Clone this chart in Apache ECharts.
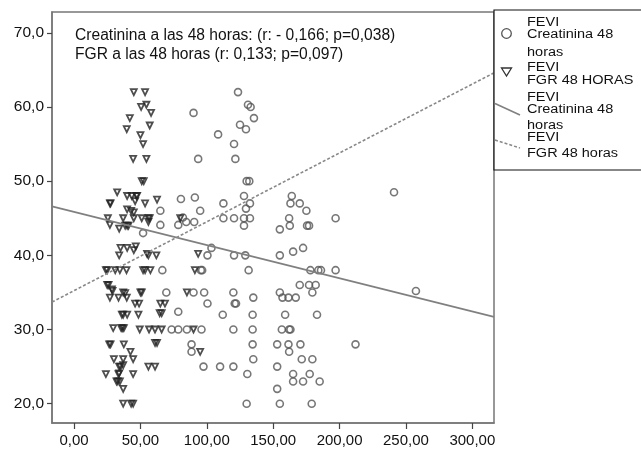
<!DOCTYPE html>
<html><head><meta charset="utf-8">
<script src="https://cdn.jsdelivr.net/npm/echarts@6/dist/echarts.min.js"></script>
<style>html,body{margin:0;padding:0;background:#fff}#c{width:641px;height:451px}</style>
</head><body><div id="c"></div>
<script>
const xTickValues = [0, 50, 100, 150, 200, 250, 300];
const xTickLabels = ['0,00', '50,00', '100,00', '150,00', '200,00', '250,00', '300,00'];
const yTickValues = [20, 30, 40, 50, 60, 70];
const yTickLabels = ['20,0', '30,0', '40,0', '50,0', '60,0', '70,0'];

const annotationLines = [
  'Creatinina a las 48 horas: (r: - 0,166; p=0,038)',
  'FGR a las 48 horas (r: 0,133; p=0,097)'
];
const legendTexts = [
  ['FEVI', 'Creatinina 48', 'horas'],
  ['FEVI', 'FGR 48 HORAS'],
  ['FEVI', 'Creatinina 48', 'horas'],
  ['FEVI', 'FGR 48 horas']
];

// Creatinina a las 48 horas (x) vs FEVI (y) — open circles
const creatininaPoints = [
  [123.5,62],[131,60.3],[133,60],[90,59.2],[135.5,58.5],[125,57.6],[129.5,57],
  [108.5,56.3],[120.5,55],[93.5,53],[121.5,53],[130,50],[132,50],
  [80.5,47.6],[91,47.8],[128,48],[164,48],[241,48.5],
  [112.5,47],[132.5,47],[163,47],[170,47],
  [65,46],[95,46],[129.5,46.3],[175,46],
  [82,45.1],[112.5,45],[120.5,45],[128,45],[132.5,45],[162,45],[197,45],
  [78.5,44.1],[65,44.1],[84.5,44.5],[90.5,44.5],[128,44],[162.5,44],[175.5,44],[177,44],
  [155,43.5],[52,43],
  [103.5,41],[172.5,41],[165,40.5],
  [100.5,40],[120.5,40],[129,40],[155,40],
  [66.5,38],[95.5,38],[96.5,38],[131.5,38],[178,38],[184,38],[186,38],[197,38],
  [170,36],[177,36],[182,36],
  [69.5,35],[90,35],[98,35],[120,35],[155,35],[179.5,35],[257.5,35.2],
  [135,34.3],[157,34.3],[161.5,34.3],[167,34.3],
  [100.5,33.5],[121,33.5],[122,33.5],
  [78.5,32.4],[112,32],[134.5,32],[159,32],[183,32],
  [73.5,30],[78.5,30],[85,30],[96,30],[120,30],[134.5,30],[156.5,30],[162,30],[163,30],
  [88.5,28],[134.5,28],[153,28],[161.5,28],[170.5,28],[212,28],
  [88.5,27],[162,27],
  [135,26],[171.5,26],[179.5,26],
  [97.5,25],[110,25],[120,25],[153,25],
  [130.5,24],[165,24],[177.5,24],
  [165,23],[172.5,23],[185,23],
  [153,22],
  [130,20],[155,20],[179,20]
];

// FGR a las 48 horas (x) vs FEVI (y) — open down triangles
const fgrPoints = [
  [45,62],[53.5,62],[50.5,60],[54.5,60.3],[58,59.2],[42,58.5],[57,57.5],[39.7,57],
  [50,56.2],[52,55],[44.5,53],[54.5,53],[51,50],[52.5,50],
  [32.5,48.5],[40,48],[43.5,48],[47,48],[47.5,48],
  [27,47],[27.5,47],[46,47.3],[53.5,47],[62.5,47.5],
  [40,46.2],[43,46],[45,45.8],
  [25.5,45],[37,45],[45,45],[51,45],[56,45],[57,45],[80,45],
  [27,44.1],[34,43.6],[38.5,44],[40,44],[41,44],[56,44.5],
  [35,41],[40,41],[45,40.7],[46.5,41.2],
  [34,40],[56,40],[55,40.2],[62,40],[93.5,40.2],
  [24,38],[25,38],[31,38],[34.5,38],[39.5,38],[52,38],[53.5,38],[57.5,38],[91,38],
  [25,36],[26,36],[28.5,35.4],
  [29,35.2],[37,35],[50,35],[51,35],[85,35],
  [27,34.3],[33.5,34.3],[38.5,34.9],[39.7,34.3],
  [46,33.5],[49,33.5],[65,33.5],[68.5,33.5],
  [36,32],[37,32],[40,32],[48.5,32],[64.5,32.2],[66,32.2],
  [29.5,30.2],[35.5,30.2],[36.5,30.2],[37.5,30.2],[49.5,30],[56.5,30],[61,30],[66,30],[90,30],
  [26.5,28],[27.5,28],[37.5,28],[61,28.2],[62.5,28.2],
  [42.5,27],[95,27],
  [30,26],[37,26],[44.5,26],
  [34,25],[35,25],[37,25.2],[56,25],[61,25],
  [24,24],[33.5,24],[34,24.1],[44.5,24],
  [32,23],[33,23],[34.5,23],
  [37,22],
  [37,20],[43,20],[44.5,20]
];

// Fitted lines (endpoints at axis extremes)
const xRange = [-16.6, 316.3];
const yRange = [17.4, 72.8];
const creatininaFit = [[-16.6, 46.6], [316.3, 31.7]];
const fgrFit = [[-16.6, 33.7], [316.3, 64.6]];

const chart = echarts.init(document.getElementById('c'), null, {renderer: 'canvas'});
const FONT = '"Liberation Sans", Arial, sans-serif';

const option = {
  animation: false,
  backgroundColor: '#fff',
  grid: {left: 52, top: 12, right: 147, bottom: 28, show: true, borderColor: '#777', borderWidth: 1.5, backgroundColor: '#fff'},
  xAxis: {
    type: 'value', min: xRange[0], max: xRange[1],
    splitLine: {show: false},
    axisLine: {show: true, onZero: false, lineStyle: {color: '#777', width: 1.5}},
    axisTick: {show: true, length: 6, customValues: xTickValues, lineStyle: {color: '#444', width: 1.2}},
    axisLabel: {customValues: xTickValues, margin: 10, color: '#111', fontSize: 15, fontFamily: FONT,
      formatter: v => xTickLabels[xTickValues.indexOf(Math.round(v))] || ''}
  },
  yAxis: {
    type: 'value', min: yRange[0], max: yRange[1],
    splitLine: {show: false},
    axisLine: {show: true, onZero: false, lineStyle: {color: '#777', width: 1.5}},
    axisTick: {show: true, length: 5, customValues: yTickValues, lineStyle: {color: '#444', width: 1.2}},
    axisLabel: {customValues: yTickValues, margin: 8, color: '#111', fontSize: 15.5, fontFamily: FONT,
      formatter: v => yTickLabels[yTickValues.indexOf(Math.round(v))] || ''}
  },
  series: [
    {name: 'FEVI Creatinina 48 horas', type: 'scatter', data: creatininaPoints, symbol: 'circle', symbolSize: 7,
      itemStyle: {color: 'rgba(0,0,0,0)', borderColor: '#555', borderWidth: 1.6}, z: 2},
    {name: 'FEVI FGR 48 HORAS', type: 'scatter', data: fgrPoints, symbol: 'triangle', symbolRotate: 180, symbolSize: 6,
      itemStyle: {color: 'rgba(0,0,0,0)', borderColor: '#222', borderWidth: 1.8}, z: 2},
    {name: 'FEVI Creatinina 48 horas fit', type: 'line', data: creatininaFit, symbol: 'none',
      lineStyle: {color: '#808080', width: 1.8, type: 'solid'}, z: 3},
    {name: 'FEVI FGR 48 horas fit', type: 'line', data: fgrFit, symbol: 'none',
      lineStyle: {color: '#888', width: 1.6, type: [3, 2]}, z: 3}
  ],
  graphic: []
};

// annotation
const g = option.graphic;
g.push({type: 'text', x: 75, y: 35.7, style: {text: annotationLines[0], font: '15.6px ' + FONT, fill: '#111', textVerticalAlign: 'middle'}});
g.push({type: 'text', x: 75, y: 55, style: {text: annotationLines[1], font: '15.6px ' + FONT, fill: '#111', textVerticalAlign: 'middle'}});

// legend box
g.push({type: 'rect', shape: {x: 494, y: 10, width: 160, height: 160}, style: {fill: '#fff', stroke: '#111', lineWidth: 1.2}, z: 10});
const legendLineY = [[22.8, 34.5, 53], [67.5, 80.5], [97.5, 109.5, 125.5], [138, 154]];
legendTexts.forEach((lines, i) => {
  lines.forEach((t, j) => {
    g.push({type: 'text', x: 527, y: legendLineY[i][j], scaleY: 0.83, z: 11,
      style: {text: t, font: '14.5px ' + FONT, fill: '#111', textVerticalAlign: 'middle'}});
  });
});
g.push({type: 'circle', shape: {cx: 506.5, cy: 33.5, r: 4.8}, style: {fill: 'none', stroke: '#555', lineWidth: 1.3}, z: 11});
g.push({type: 'polygon', shape: {points: [[501.5, 68], [511.5, 68], [506.5, 76]]}, style: {fill: 'none', stroke: '#333', lineWidth: 1.3}, z: 11});
g.push({type: 'line', shape: {x1: 495, y1: 103.5, x2: 520, y2: 115}, style: {stroke: '#808080', lineWidth: 1.6}, z: 11});
g.push({type: 'line', shape: {x1: 495, y1: 140, x2: 520, y2: 148}, style: {stroke: '#888', lineWidth: 1.5, lineDash: [3, 2]}, z: 11});

chart.setOption(option);
</script>
</body></html>
